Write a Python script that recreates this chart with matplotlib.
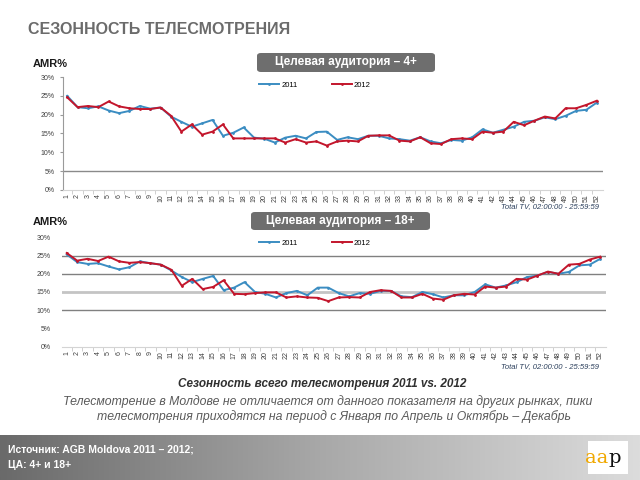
import numpy as np
import matplotlib
matplotlib.use('Agg')
import matplotlib.pyplot as plt
from matplotlib.patches import FancyBboxPatch, Rectangle

plt.rcParams['font.family'] = ['Liberation Sans', 'DejaVu Sans']

weeks = list(range(1, 53))
week_labels = [str(w) for w in weeks]

# AMR%, audience 4+
top_2011 = [25.0, 22.0, 21.7, 22.2, 21.1, 20.4, 21.0, 22.3, 21.6, 21.9,
            19.5, 18.1, 16.8, 17.7, 18.6, 14.4, 15.2, 16.6, 13.9, 13.6,
            12.6, 13.9, 14.4, 13.7, 15.4, 15.5, 13.3, 14.0, 13.5, 14.4,
            14.4, 13.7, 13.5, 13.1, 14.0, 12.9, 12.4, 13.3, 13.1, 14.0,
            16.1, 15.2, 16.0, 16.8, 18.1, 18.4, 19.3, 18.8, 19.7, 21.0,
            21.3, 23.2]
top_2012 = [24.6, 22.0, 22.3, 22.0, 23.5, 22.2, 21.7, 21.5, 21.5, 21.9,
            19.7, 15.5, 17.4, 14.7, 15.5, 17.4, 13.7, 13.7, 13.7, 13.7,
            13.7, 12.6, 13.5, 12.6, 12.9, 11.8, 12.9, 13.1, 12.9, 14.4,
            14.5, 14.5, 13.1, 12.9, 14.0, 12.4, 12.2, 13.5, 13.7, 13.5,
            15.5, 15.2, 15.5, 18.1, 17.2, 18.4, 19.5, 19.0, 21.7, 21.7,
            22.6, 23.7]

# AMR%, audience 18+
bot_2011 = [25.3, 23.2, 22.7, 22.9, 22.0, 21.2, 21.8, 23.4, 22.9, 22.5,
            20.9, 19.1, 17.7, 18.6, 19.4, 15.5, 16.2, 17.7, 15.0, 14.5,
            13.5, 14.7, 15.3, 14.1, 16.2, 16.2, 14.7, 13.8, 14.7, 14.5,
            15.3, 15.3, 13.8, 13.6, 15.0, 14.4, 13.5, 14.1, 14.1, 15.0,
            17.1, 16.2, 16.8, 17.7, 19.1, 19.5, 20.5, 20.0, 20.5, 22.3,
            22.5, 24.1]
bot_2012 = [25.7, 23.6, 24.1, 23.5, 24.7, 23.4, 23.0, 23.2, 22.9, 22.5,
            21.1, 16.7, 18.6, 15.8, 16.4, 18.2, 14.5, 14.4, 14.7, 14.9,
            14.9, 13.5, 13.8, 13.5, 13.4, 12.5, 13.5, 13.6, 13.5, 15.0,
            15.5, 15.3, 13.5, 13.5, 14.5, 13.2, 12.9, 14.1, 14.5, 14.3,
            16.5, 16.2, 16.5, 18.6, 18.4, 19.5, 20.6, 20.0, 22.5, 22.7,
            23.9, 24.7]

yticks = [0, 5, 10, 15, 20, 25, 30]
ytick_labels = ['%d%%' % v for v in yticks]

BLUE = '#3b8dc2'
RED = '#c3162c'
W, H = 640.0, 480.0


def box(x0, y0, x1, y1):
    # pixel box (top-left origin) -> figure fraction rect
    return [x0 / W, 1 - y1 / H, (x1 - x0) / W, (y1 - y0) / H]


def fxy(x, y):
    return x / W, 1 - y / H


fig = plt.figure(figsize=(6.4, 4.8), dpi=100)
fig.patch.set_facecolor('white')


def draw_chart(ax, s2011, s2012, xlim):
    ax.plot(weeks, s2011, color=BLUE, lw=1.4, marker='.', ms=2, label='2011', zorder=3)
    ax.plot(weeks, s2012, color=RED, lw=1.4, marker='.', ms=2, label='2012', zorder=4)
    ax.set_xlim(*xlim)
    ax.set_ylim(0, 30)
    ax.set_yticks(yticks)
    ax.set_yticklabels(ytick_labels, fontsize=5, color='#404040')
    ax.set_xticks(weeks)
    ax.set_xticklabels(week_labels, rotation=90, fontsize=5, color='#404040')
    ax.set_xticks(np.arange(1.5, 52, 1.0), minor=True)
    ax.tick_params(axis='x', which='major', length=0, pad=3)
    ax.tick_params(axis='x', which='minor', length=3, color='#c8c8c8')
    for s in ['top', 'right']:
        ax.spines[s].set_visible(False)
    ax.spines['bottom'].set_color('#d4d4d4')
    ax.set_facecolor('none')


# top chart
ax1 = fig.add_axes(box(63, 77, 603, 190))
draw_chart(ax1, top_2011, top_2012, (0.6, 52.6))
ax1.axhline(5, color='#8a8a8a', lw=1, zorder=1)
ax1.spines['left'].set_color('#9a9a9a')
ax1.tick_params(axis='y', length=2, color='#9a9a9a', pad=4)

# bottom chart
ax2 = fig.add_axes(box(62, 237.3, 606, 346.7))
draw_chart(ax2, bot_2011, bot_2012, (0.55, 52.55))
for v in [25, 20, 10]:
    ax2.axhline(v, color='#808080', lw=1, zorder=1)
ax2.axhline(15, color='#c4c4c4', lw=2, zorder=1)
ax2.spines['left'].set_visible(False)
ax2.tick_params(axis='y', length=0, pad=8)

for ax, ly in [(ax1, 85), (ax2, 243)]:
    ax.legend(loc='center', bbox_to_anchor=fxy(315, ly), bbox_transform=fig.transFigure,
              ncol=2, frameon=False, fontsize=5.5, handlelength=2.6,
              columnspacing=4.5, handletextpad=0.3, borderpad=0)

# titles and labels
fig.text(*fxy(28, 29), 'СЕЗОННОСТЬ ТЕЛЕСМОТРЕНИЯ', fontsize=11.5, fontweight='bold',
         color='#6b6b6b', va='center', ha='left')
fig.text(*fxy(33, 64), 'AMR%', fontsize=8, fontweight='bold', color='#1a1a1a', va='center')
fig.text(*fxy(33, 222), 'AMR%', fontsize=8, fontweight='bold', color='#1a1a1a', va='center')

for (x0, y0, x1, y1), label in [((257, 53, 435, 72), 'Целевая аудитория – 4+'),
                                ((251, 212, 430, 230), 'Целевая аудитория – 18+')]:
    fx0, fy0 = fxy(x0, y1)
    fx1, fy1 = fxy(x1, y0)
    fig.patches.append(FancyBboxPatch((fx0, fy0), fx1 - fx0, fy1 - fy0,
                                      boxstyle='round,pad=0,rounding_size=0.006',
                                      transform=fig.transFigure, facecolor='#6e6e6e',
                                      edgecolor='none'))
    fig.text((fx0 + fx1) / 2, (fy0 + fy1) / 2, label, fontsize=8.5, fontweight='bold',
             color='white', ha='center', va='center')

for ty in [207, 367]:
    fig.text(*fxy(599, ty), 'Total TV, 02:00:00 - 25:59:59', fontsize=5.5, style='italic',
             color='#2b3f5c', ha='right', va='center')

fig.text(*fxy(322, 384), 'Сезонность всего телесмотрения 2011 vs. 2012', fontsize=8.5,
         fontweight='bold', style='italic', color='#303030', ha='center', va='center')
fig.text(*fxy(63, 402), 'Телесмотрение в Молдове не отличается от данного показателя на других рынках, пики',
         fontsize=8.8, style='italic', color='#5a5a5a', ha='left', va='center')
fig.text(*fxy(97, 417), 'телесмотрения приходятся на период с Января по Апрель и Октябрь – Декабрь',
         fontsize=8.8, style='italic', color='#5a5a5a', ha='left', va='center')

# footer band with gradient
axf = fig.add_axes(box(0, 435, 640, 480))
grad = np.linspace(0, 1, 256).reshape(1, -1)
cmap = matplotlib.colors.LinearSegmentedColormap.from_list('g', ['#6a6a6a', '#a8a8a8', '#dcdcdc'])
axf.imshow(grad, aspect='auto', cmap=cmap, extent=(0, 1, 0, 1))
axf.set_axis_off()

fig.text(*fxy(8, 449), 'Источник: AGB Moldova 2011 – 2012;', fontsize=7.5, fontweight='bold',
         color='white', va='center')
fig.text(*fxy(8, 465), 'ЦА: 4+ и 18+', fontsize=7.5, fontweight='bold', color='white', va='center')

lx0, ly0 = fxy(588, 474)
lx1, ly1 = fxy(628, 441)
fig.patches.append(Rectangle((lx0, ly0), lx1 - lx0, ly1 - ly0, transform=fig.transFigure,
                             facecolor='white', edgecolor='none'))
fig.text(*fxy(608, 458), 'aa', fontsize=14, family='DejaVu Serif', color='#f0a800',
         ha='right', va='center')
fig.text(*fxy(608, 458), 'p', fontsize=14, family='DejaVu Serif', color='#111111',
         ha='left', va='center')

plt.savefig('out.png', dpi=100)
